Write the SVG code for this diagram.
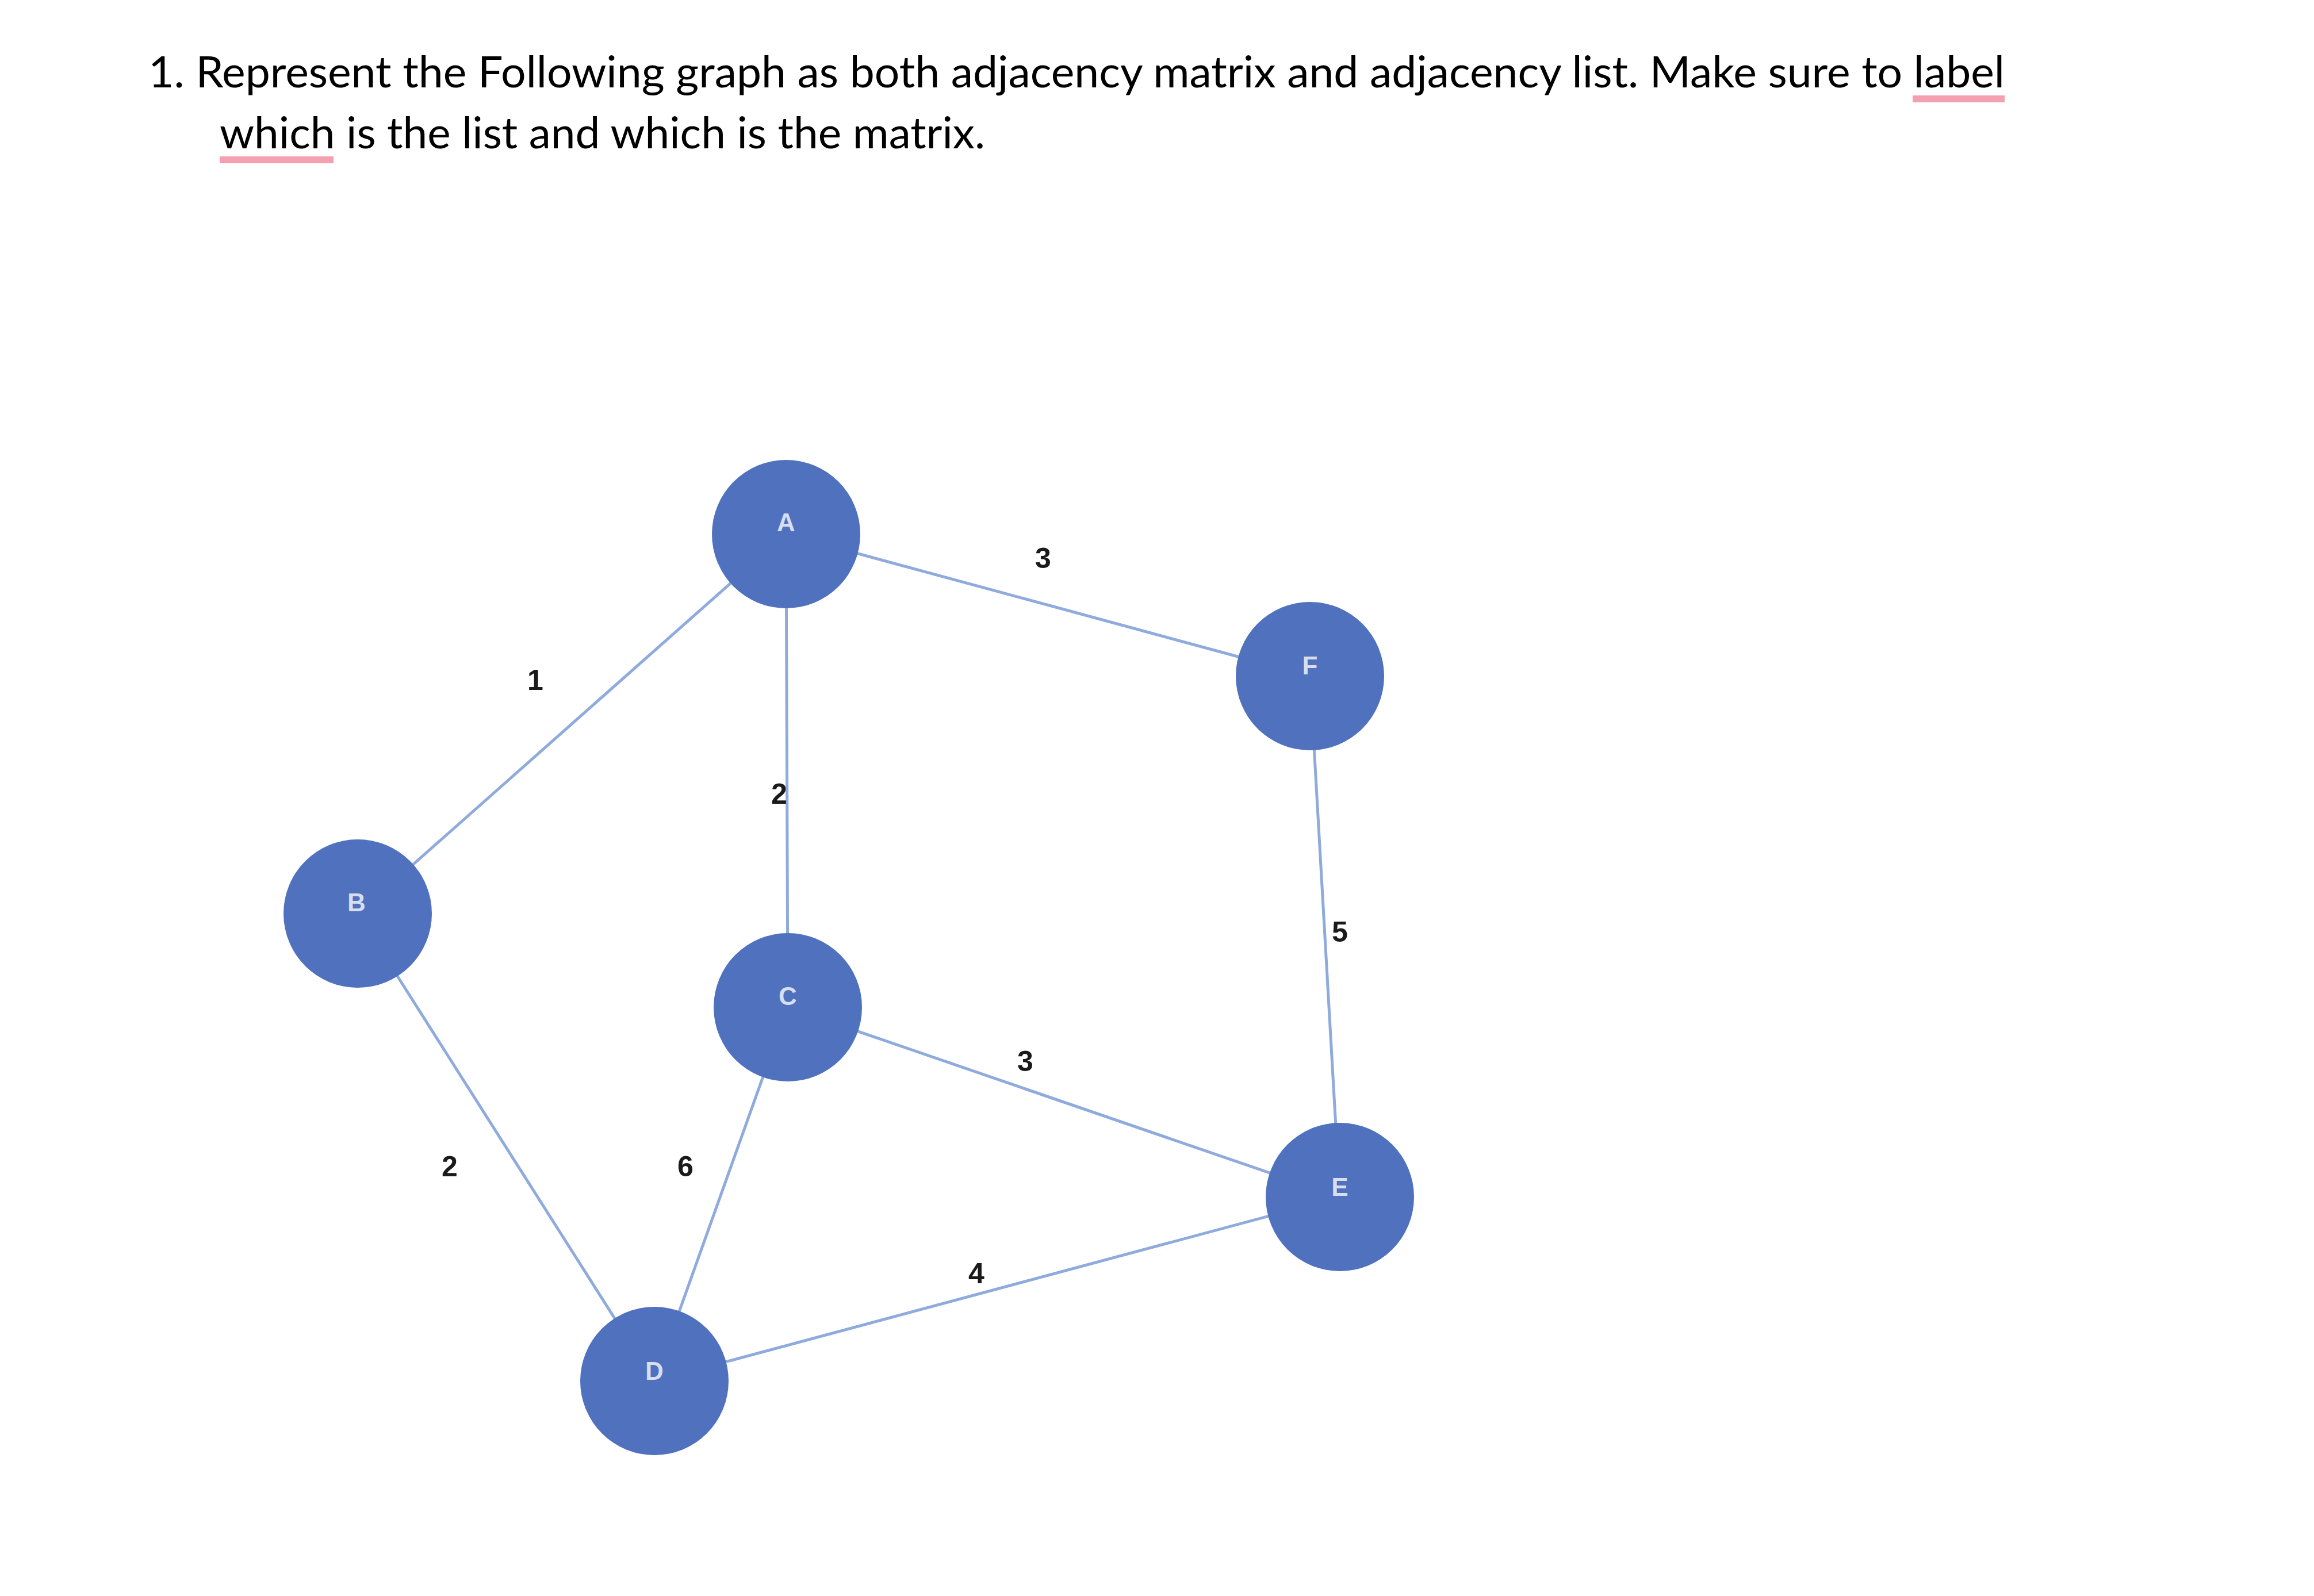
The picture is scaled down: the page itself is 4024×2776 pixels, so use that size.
<svg xmlns="http://www.w3.org/2000/svg" width="4024" height="2776" viewBox="0 0 4024 2776">
<style>
.t{font-family:Lato,"Open Sans",sans-serif;font-size:76px;fill:#000}
.e{stroke:#8FAADC;stroke-width:5;fill:none}
.n{fill:#4F71BE}
.nl{font-family:"Liberation Sans",sans-serif;font-size:44px;fill:#D6DEF0;text-anchor:middle;font-weight:bold}
.w{font-family:"Liberation Sans",sans-serif;font-size:50px;font-weight:bold;fill:#1a1a1a;text-anchor:middle}
.u{fill:#F4A0AE}
</style>
<rect width="4024" height="2776" fill="#fff"/>
<g id="title">
<text class="t" x="258" y="152" textLength="3228" lengthAdjust="spacingAndGlyphs">1. Represent the Following graph as both adjacency matrix and adjacency list. Make sure to label</text>
<text class="t" x="382" y="258" textLength="1331" lengthAdjust="spacingAndGlyphs">which is the list and which is the matrix.</text>
<rect class="u" x="3326" y="166" width="160" height="12"/>
<rect class="u" x="382" y="272" width="198" height="12"/>
</g>
<g id="connectors">
<line class="e" x1="1367" y1="929" x2="2278" y2="1176"/>
<line class="e" x1="1367" y1="929" x2="622" y2="1589"/>
<line class="e" x1="1367" y1="929" x2="1370" y2="1752" transform="translate(0,0)"/>
<line class="e" x1="2278" y1="1176" x2="2330" y2="2082"/>
<line class="e" x1="1370" y1="1752" x2="2330" y2="2082"/>
<line class="e" x1="622" y1="1589" x2="1138" y2="2402"/>
<line class="e" x1="1370" y1="1752" x2="1138" y2="2402"/>
<line class="e" x1="1138" y1="2402" x2="2330" y2="2082"/>
<text class="w" x="1814" y="988">3</text>
<text class="w" x="931" y="1200">1</text>
<text class="w" x="1355" y="1398">2</text>
<text class="w" x="2330" y="1638">5</text>
<text class="w" x="1783" y="1863">3</text>
<text class="w" x="782" y="2046">2</text>
<text class="w" x="1192" y="2046">6</text>
<text class="w" x="1698" y="2232">4</text>
</g>
<g id="A"><circle class="n" cx="1367" cy="929" r="129"/><text class="nl" x="1367" y="924">A</text></g>
<g id="F"><circle class="n" cx="2278" cy="1176" r="129"/><text class="nl" x="2278" y="1173">F</text></g>
<g id="B"><circle class="n" cx="622" cy="1589" r="129"/><text class="nl" x="620" y="1585">B</text></g>
<g id="C"><circle class="n" cx="1370" cy="1752" r="129"/><text class="nl" x="1370" y="1748">C</text></g>
<g id="E"><circle class="n" cx="2330" cy="2082" r="129"/><text class="nl" x="2330" y="2080">E</text></g>
<g id="D"><circle class="n" cx="1138" cy="2402" r="129"/><text class="nl" x="1138" y="2400">D</text></g>
</svg>
